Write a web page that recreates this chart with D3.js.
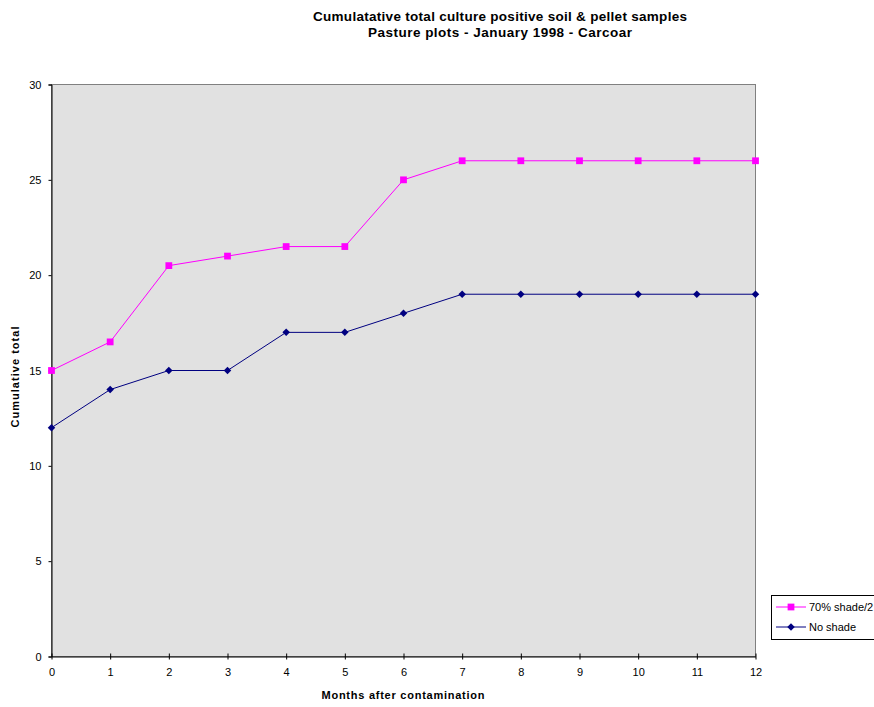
<!DOCTYPE html>
<html>
<head>
<meta charset="utf-8">
<script src="https://cdn.jsdelivr.net/npm/d3@7"></script>
<style>
  body { margin: 0; background: #fff; }
  svg { display: block; font-family: "Liberation Sans", Arial, sans-serif; }
</style>
</head>
<body>
<svg id="chart" width="874" height="707"></svg>
<script>
const months = [0, 1, 2, 3, 4, 5, 6, 7, 8, 9, 10, 11, 12]
const shade = [15, 16.5, 20.5, 21, 21.5, 21.5, 25, 26, 26, 26, 26, 26, 26]
const noShade = [12, 14, 15, 15, 17, 17, 18, 19, 19, 19, 19, 19, 19]
const yTicks = [0, 5, 10, 15, 20, 25, 30]
const seriesNames = ['70% shade/2', 'No shade']

const svg = d3.select('#chart')

const plot = {left: 51.5, right: 755.5, top: 84.5, bottom: 656.5}

const x = d3.scaleLinear().domain([0, 12]).range([plot.left, plot.right])
const y = d3.scaleLinear().domain([0, 30]).range([plot.bottom, plot.top])

// plot background
svg.append('rect')
  .attr('x', plot.left).attr('y', plot.top)
  .attr('width', plot.right - plot.left).attr('height', plot.bottom - plot.top)
  .attr('fill', '#e1e1e1')
  .attr('stroke', '#808080')
  .attr('stroke-width', 1)

// y axis
const yAxis = svg.append('g')
  .attr('transform', `translate(${plot.left},0)`)
  .call(d3.axisLeft(y).tickValues(yTicks).tickSize(3).tickPadding(7))
yAxis.select('.domain').attr('stroke', '#000')
yAxis.selectAll('text').attr('font-size', 11).attr('fill', '#000').attr('font-family', 'Liberation Sans, Arial, sans-serif')

// x axis (ticks cross the axis)
const xAxis = svg.append('g')
  .attr('transform', `translate(0,${plot.bottom})`)
  .call(d3.axisBottom(x).tickValues(months).tickSize(3).tickPadding(9).tickSizeOuter(0))
xAxis.select('.domain').attr('stroke', '#000')
xAxis.selectAll('.tick line').attr('y1', -3)
xAxis.selectAll('text').attr('font-size', 11).attr('fill', '#000').attr('font-family', 'Liberation Sans, Arial, sans-serif')

// titles
svg.append('text')
  .attr('x', 500).attr('y', 21)
  .attr('text-anchor', 'middle').attr('font-size', 13.5).attr('font-weight', 'bold')
  .attr('textLength', 374).attr('lengthAdjust', 'spacing')
  .text('Cumulatative total culture positive soil & pellet samples')
svg.append('text')
  .attr('x', 500).attr('y', 37)
  .attr('text-anchor', 'middle').attr('font-size', 13.5).attr('font-weight', 'bold')
  .attr('textLength', 264).attr('lengthAdjust', 'spacing')
  .text('Pasture plots - January 1998 - Carcoar')

svg.append('text')
  .attr('x', 403).attr('y', 699)
  .attr('text-anchor', 'middle').attr('font-size', 11).attr('font-weight', 'bold')
  .attr('textLength', 163).attr('lengthAdjust', 'spacing')
  .text('Months after contamination')

svg.append('text')
  .attr('transform', 'translate(19,377) rotate(-90)')
  .attr('text-anchor', 'middle').attr('font-size', 11).attr('font-weight', 'bold')
  .attr('textLength', 101).attr('lengthAdjust', 'spacing')
  .text('Cumulative total')

// series
const line = d3.line().x((d, i) => x(months[i])).y(d => y(d))

svg.append('path').datum(noShade)
  .attr('d', line).attr('fill', 'none').attr('stroke', '#000080').attr('stroke-width', 1)
svg.append('path').datum(shade)
  .attr('d', line).attr('fill', 'none').attr('stroke', '#ff00ff').attr('stroke-width', 1)

const diamond = d3.symbol().type(d3.symbolDiamond2).size(36)
const square = d3.symbol().type(d3.symbolSquare).size(46)

svg.selectAll('.nsm').data(noShade).join('path')
  .attr('class', 'nsm')
  .attr('transform', (d, i) => `translate(${x(months[i])},${y(d)})`)
  .attr('d', diamond).attr('fill', '#000080')
svg.selectAll('.shm').data(shade).join('path')
  .attr('class', 'shm')
  .attr('transform', (d, i) => `translate(${x(months[i])},${y(d)})`)
  .attr('d', square).attr('fill', '#ff00ff')

// legend
const legend = svg.append('g')
legend.append('rect')
  .attr('x', 771.5).attr('y', 595.5).attr('width', 110).attr('height', 44)
  .attr('fill', '#fff').attr('stroke', '#000').attr('stroke-width', 1)

const legendItems = [
  {name: seriesNames[0], color: '#ff00ff', sym: square, y: 607},
  {name: seriesNames[1], color: '#000080', sym: diamond, y: 627}
]
legendItems.forEach(d => {
  legend.append('line')
    .attr('x1', 776).attr('x2', 806).attr('y1', d.y).attr('y2', d.y)
    .attr('stroke', d.color).attr('stroke-width', 1)
  legend.append('path')
    .attr('transform', `translate(791,${d.y})`)
    .attr('d', d.sym).attr('fill', d.color)
  legend.append('text')
    .attr('x', 809).attr('y', d.y + 4)
    .attr('font-size', 11).attr('fill', '#000')
    .text(d.name)
})
</script>
</body>
</html>
